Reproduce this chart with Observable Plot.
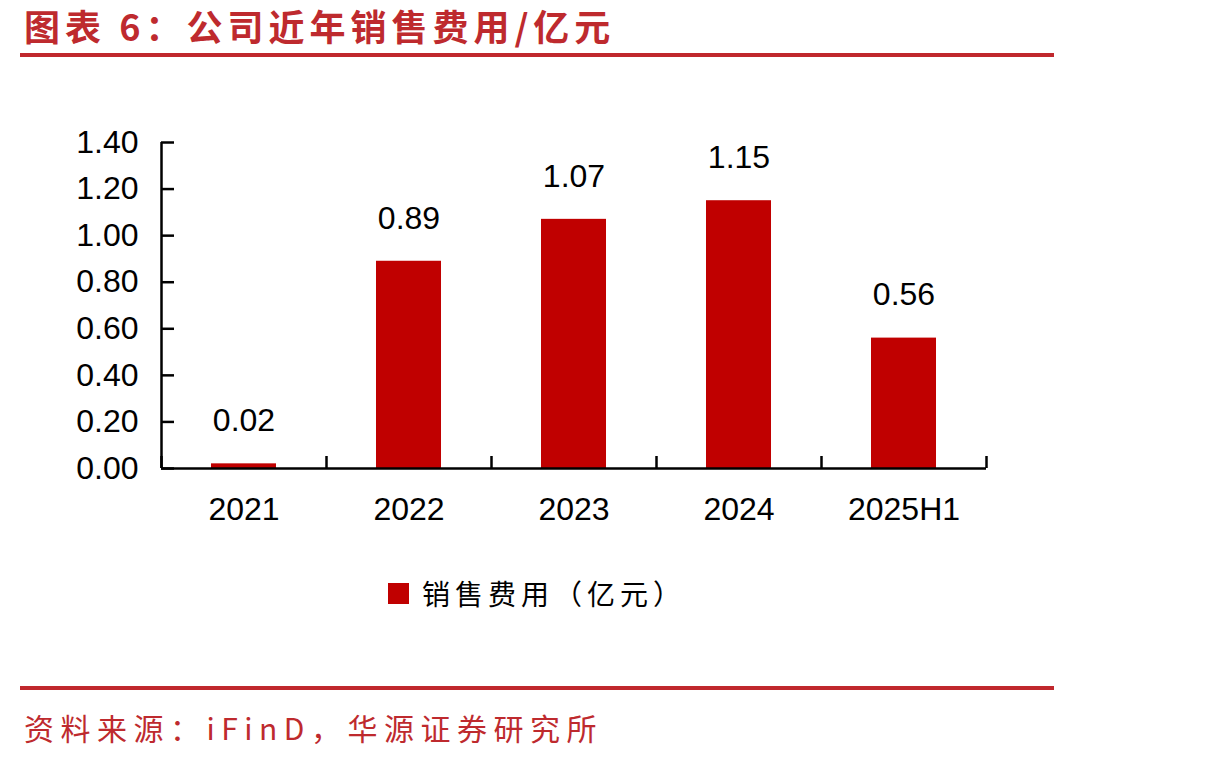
<!DOCTYPE html>
<html>
<head>
<meta charset="utf-8">
<script src="https://cdn.jsdelivr.net/npm/d3@7"></script>
<script src="https://cdn.jsdelivr.net/npm/@observablehq/plot@0.6"></script>
<style>
  html, body { margin: 0; padding: 0; background: #fff; }
  #wrap { position: relative; width: 1210px; height: 760px; overflow: hidden; }
  .red { color: #BE2A2E; }
  #title { position: absolute; left: 24px; top: 5px; font: bold 36px/40px "Noto Sans CJK SC", sans-serif; letter-spacing: 5px; white-space: nowrap; }
  .hr { position: absolute; left: 20px; width: 1034px; height: 4px; background: #C0282D; }
  #chart { position: absolute; left: 0; top: 60px; }
  #legend { position: absolute; left: 388px; top: 573px; display: flex; align-items: center; font: 28px "Noto Sans CJK SC", sans-serif; letter-spacing: 5px; color: #000; white-space: nowrap; }
  #legend .sw { width: 21px; height: 21px; background: #C00000; margin-right: 13px; }
  #source { position: absolute; left: 24px; top: 705px; font: 30px "Noto Sans CJK SC", sans-serif; letter-spacing: 6.5px; white-space: nowrap; }
</style>
</head>
<body>
<div id="wrap">
  <div id="title" class="red"></div>
  <div class="hr" style="top:53px"></div>
  <div id="chart"></div>
  <div id="legend"><div class="sw"></div><span id="legendText"></span></div>
  <div class="hr" style="top:686px"></div>
  <div id="source" class="red"></div>
</div>
<script>
// Sales expenses by period (100 million yuan)
const categories = ["2021", "2022", "2023", "2024", "2025H1"];
const values = [0.02, 0.89, 1.07, 1.15, 0.56];
const yTicks = [0, 0.2, 0.4, 0.6, 0.8, 1.0, 1.2, 1.4];
const titleText = "图表 6：公司近年销售费用/亿元";
const seriesName = "销售费用（亿元）";
const sourceText = "资料来源：iFinD，华源证券研究所";

document.getElementById("title").textContent = titleText;
document.getElementById("legendText").textContent = seriesName;
document.getElementById("source").textContent = sourceText;

const data = categories.map((c, i) => ({category: c, value: values[i], i}));
const halfBar = 0.197; // half bar width, in category units
const barColor = "#C00000";
const font = "'Liberation Sans', Arial, sans-serif";
const labelSize = 32;

const chart = Plot.plot({
  width: 1210,
  height: 500,
  marginLeft: 161,
  marginRight: 224,
  marginTop: 82,
  marginBottom: 92,
  style: {fontFamily: font, fontSize: labelSize + "px", color: "#000", background: "transparent"},
  x: {type: "linear", domain: [0, categories.length], axis: null},
  y: {domain: [0, 1.4], axis: null},
  marks: [
    Plot.rectY(data, {x1: d => d.i + 0.5 - halfBar, x2: d => d.i + 0.5 + halfBar, y: "value", fill: barColor}),
    // axis lines
    Plot.ruleX([0], {stroke: "#000", strokeWidth: 2.5}),
    Plot.ruleY([0], {stroke: "#000", strokeWidth: 2.5}),
    // y ticks pointing inward, labels outside
    Plot.axisY(yTicks, {tickSize: -13, tickFormat: () => "", strokeWidth: 2.5, label: null}),
    Plot.axisY(yTicks, {tickSize: 0, tickPadding: 23, tickFormat: d => d.toFixed(2), fontSize: labelSize, label: null}),
    // x ticks at category boundaries pointing up, labels centred
    Plot.axisX(d3.range(categories.length + 1), {tickSize: -12, tickFormat: () => "", strokeWidth: 2.5, label: null}),
    Plot.axisX(categories.map((c, i) => i + 0.5), {tickSize: 0, tickPadding: 29, tickFormat: v => categories[Math.floor(v)], fontSize: labelSize, label: null}),
    // value labels
    Plot.text(data, {x: d => d.i + 0.5, y: "value", text: d => d.value.toFixed(2), dy: -43, fontSize: labelSize, fill: "#000"})
  ]
});
document.getElementById("chart").appendChild(chart);
</script>
</body>
</html>
